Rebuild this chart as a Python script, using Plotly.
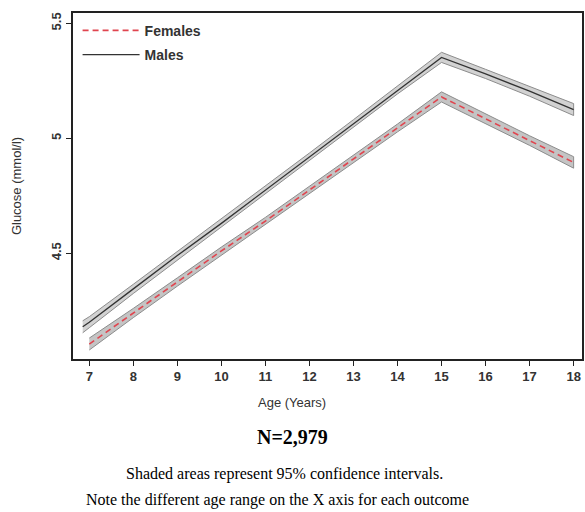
import plotly.graph_objects as go

# ages (years) and mean glucose (mmol/l) with 95% CI
age_males = [6.85, 7, 8, 9, 10, 11, 12, 13, 14, 15, 16, 17, 18]
glucose_males = [4.18, 4.20, 4.345, 4.49, 4.63, 4.775, 4.92, 5.065, 5.21, 5.352, 5.28, 5.205, 5.125]
ci_males = [0.026, 0.024, 0.02, 0.018, 0.017, 0.016, 0.016, 0.016, 0.017, 0.022, 0.02, 0.022, 0.026]

age_females = [7, 8, 9, 10, 11, 12, 13, 14, 15, 16, 17, 18]
glucose_females = [4.105, 4.24, 4.375, 4.51, 4.64, 4.775, 4.91, 5.045, 5.18, 5.085, 4.99, 4.895]
ci_females = [0.026, 0.02, 0.018, 0.017, 0.016, 0.016, 0.016, 0.017, 0.022, 0.02, 0.021, 0.025]

x_ticks = list(range(7, 19))
y_ticks = [4.5, 5, 5.5]
y_tick_labels = ["4.5", "5", "5.5"]


def band(x, y, ci):
    upper = [v + c for v, c in zip(y, ci)]
    lower = [v - c for v, c in zip(y, ci)]
    return list(x) + list(x)[::-1], upper + lower[::-1]


fig = go.Figure()

bx, by = band(age_males, glucose_males, ci_males)
fig.add_trace(go.Scatter(x=bx, y=by, fill="toself", fillcolor="#d2d2d2",
                         line=dict(color="#8c8c8c", width=1), showlegend=False, hoverinfo="skip"))
bx, by = band(age_females, glucose_females, ci_females)
fig.add_trace(go.Scatter(x=bx, y=by, fill="toself", fillcolor="#c4c4c4",
                         line=dict(color="#8c8c8c", width=1), showlegend=False, hoverinfo="skip"))

fig.add_trace(go.Scatter(x=age_females, y=glucose_females, mode="lines", name="Females",
                         legendgroup="f",
                         line=dict(color="#e0454f", width=1.6, dash="6px,4px")))
fig.add_trace(go.Scatter(x=age_males, y=glucose_males, mode="lines", name="Males",
                         legendgroup="m",
                         line=dict(color="#333333", width=1.3)))

tick_font = dict(family="Liberation Sans, Arial", size=13, color="#333333", weight="bold")
title_font = dict(family="Liberation Sans, Arial", size=13, color="#333333")

fig.update_xaxes(range=[6.63, 18.19], tickvals=x_ticks, ticks="outside", ticklen=5,
                 tickcolor="#222", showline=True, linecolor="#222", linewidth=1.5,
                 mirror=True, showgrid=False, zeroline=False, tickfont=tick_font)
fig.update_yaxes(range=[4.04, 5.545], tickvals=y_ticks, ticktext=y_tick_labels,
                 ticks="outside", ticklen=5, tickcolor="#222", tickangle=-90,
                 showline=True, linecolor="#222", linewidth=1.5, mirror=True,
                 showgrid=False, zeroline=False, tickfont=tick_font,
                 title=dict(text="Glucose (mmol/l)", font=title_font, standoff=24))

notes = [
    ("Age (Years)", -0.127, 0.43, title_font),
    ("<b>N=2,979</b>", -0.225, 0.431, dict(family="Liberation Serif, Times New Roman", size=20, color="#000")),
    ("Shaded areas represent 95% confidence intervals.", -0.332, 0.416,
     dict(family="Liberation Serif, Times New Roman", size=16, color="#000")),
    ("Note the different age range on the X axis for each outcome", -0.407, 0.402,
     dict(family="Liberation Serif, Times New Roman", size=16, color="#000")),
]
for text, y, x, font in notes:
    fig.add_annotation(text=text, xref="paper", yref="paper", x=x, y=y,
                       xanchor="center", yanchor="middle", showarrow=False, font=font)

fig.update_layout(
    width=585, height=512,
    margin=dict(l=73, r=1, t=13, b=153),
    plot_bgcolor="white", paper_bgcolor="white",
    legend=dict(x=0.009, y=0.995, xanchor="left", yanchor="top", bgcolor="rgba(0,0,0,0)",
                font=dict(family="Liberation Sans, Arial", size=14, color="#333", weight="bold"),
                itemwidth=57, tracegroupgap=3),
)

# page body has a default 8px margin; drop it so the figure fills the window
fig.write_html("out.html", config={"displayModeBar": False},
               post_script="document.body.style.margin='0';")
